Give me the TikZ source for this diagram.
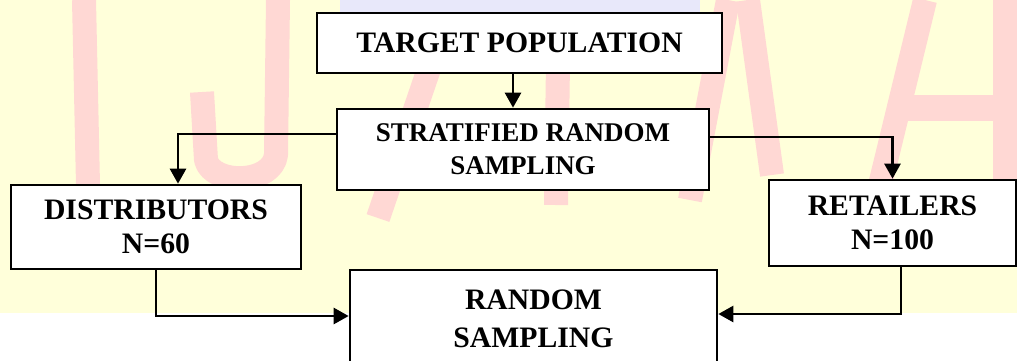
\documentclass[tikz,border=0pt]{standalone}
\usepackage{fontspec}
\setmainfont{Liberation Serif}
\usetikzlibrary{arrows.meta}
\definecolor{bgyellow}{RGB}{255,255,218}
\definecolor{wmpink}{RGB}{255,216,212}
\definecolor{wmblue}{RGB}{232,232,250}
\tikzset{
  box/.style={draw=black, line width=2.7pt, fill=white, align=center, inner sep=0pt,
    font=\bfseries\fontsize{29.7}{34}\selectfont},
  conn/.style={line width=2.7pt, -{Triangle[length=15pt,width=16pt]}},
  wm/.style={draw=wmpink, line width=24pt, line cap=butt, line join=round}
}
\begin{document}
\begin{tikzpicture}[x=1pt,y=-1pt]
\useasboundingbox (0,0) rectangle (1017,360);
\begin{scope}
\clip (0,0) rectangle (1017,360);
% background
\fill[bgyellow] (0,0) rectangle (1017,313);
\fill[wmblue] (340,0) rectangle (700,12);
% watermark strokes (faint letters)
\draw[wm] (84,0) -- (88,185);
\draw[wm] (278,0) -- (276,155) .. controls (272,185) and (212,185) .. (206,160) -- (202,92);
\draw[wm] (432,60) -- (378,218);
\draw[wm] (558,62) -- (556,205);
\draw[wm] (728,0) -- (690,200);
\draw[wm] (748,0) -- (772,175);
\draw[wm] (925,0) -- (880,185);
\draw[wm] (1005,0) -- (1005,185);
\draw[wm,line width=26pt] (905,108) -- (1017,108);
% boxes
\node[box, minimum width=405pt, minimum height=60pt] (tp) at (519.5,43) {TARGET POPULATION};
\node[box, minimum width=372pt, minimum height=81pt, font=\bfseries\fontsize{27}{33}\selectfont] (srs) at (523,149.5) {STRATIFIED RANDOM\\SAMPLING};
\node[box, minimum width=290pt, minimum height=84pt] (dist) at (156,227) {DISTRIBUTORS\\N=60};
\node[box, minimum width=247pt, minimum height=86pt] (ret) at (892.5,223) {RETAILERS\\N=100};
\node[box, minimum width=367pt, minimum height=97pt, font=\bfseries\fontsize{29.7}{38}\selectfont] (rs) at (533.5,318.5) {RANDOM\\SAMPLING};
% connectors
\draw[conn] ([xshift=-6.5pt]tp.south) -- ([xshift=-10pt]srs.north);
\draw[conn] ([yshift=15.5pt]srs.west) -| ([xshift=22pt]dist.north);
\draw[conn] ([yshift=12.5pt]srs.east) -| (ret.north);
\draw[conn] (dist.south) |- ([yshift=2.5pt]rs.west);
\draw[conn] ([xshift=8.5pt]ret.south) |- ([yshift=4.5pt]rs.east);
\end{scope}
\end{tikzpicture}
\end{document}
